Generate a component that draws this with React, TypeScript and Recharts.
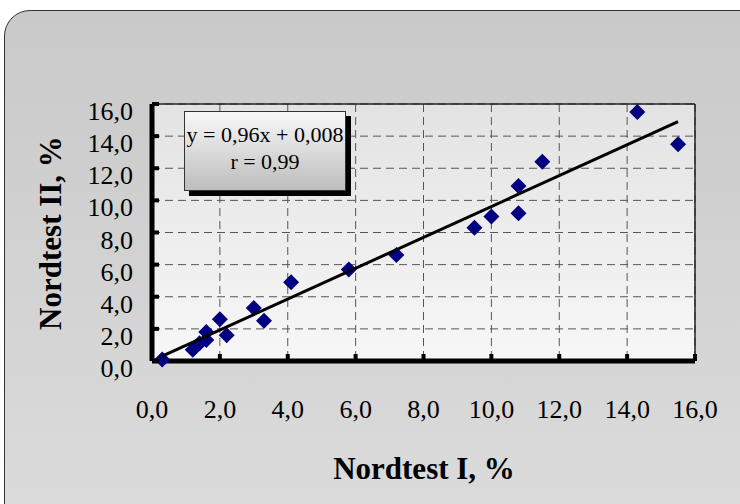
import React from 'react';
import { ScatterChart, Scatter, XAxis, YAxis, CartesianGrid, ReferenceLine } from 'recharts';

// Nordtest I (x) vs Nordtest II (y), %
const nordtestI = [0.3, 1.2, 1.4, 1.6, 1.6, 2.0, 2.2, 3.0, 3.3, 4.1, 5.8, 7.2, 9.5, 10.0, 10.8, 10.8, 11.5, 14.3, 15.5];
const nordtestII = [0.1, 0.7, 1.1, 1.3, 1.8, 2.6, 1.6, 3.3, 2.5, 4.9, 5.7, 6.6, 8.3, 9.0, 9.2, 10.9, 12.4, 15.5, 13.5];

// regression line end points (y = 0,96x + 0,008)
const trendX = [0.3, 15.5];
const trendY = [0.3, 14.9];

const axisTicks = [0, 2, 4, 6, 8, 10, 12, 14, 16];
const equationText = 'y = 0,96x + 0,008';
const rText = 'r = 0,99';

const points = nordtestI.map((x, i) => ({ x, y: nordtestII[i] }));
const trend = trendX.map((x, i) => ({ x, y: trendY[i] }));

const FONT = "'Liberation Serif', 'Times New Roman', serif";
const fmt = (v: number) => v.toFixed(1).replace('.', ',');
const tickStyle = { fontFamily: FONT, fontSize: 26 };

const XTick = (props: any) => {
  const { x, y, payload } = props;
  return (
    <g>
      <line x1={x} y1={y} x2={x} y2={y - 7} stroke="#000" strokeWidth={4} />
      <text x={x} y={y + 57} textAnchor="middle" fontSize={26} style={tickStyle} fill="#000">
        {fmt(payload.value)}
      </text>
    </g>
  );
};

const YTick = (props: any) => {
  const { x, y, payload } = props;
  return (
    <g>
      <line x1={x} y1={y} x2={x + 7} y2={y} stroke="#000" strokeWidth={4} />
      <text x={x - 19} y={y + 16} textAnchor="end" fontSize={26} style={tickStyle} fill="#000">
        {fmt(payload.value)}
      </text>
    </g>
  );
};

const Diamond = (props: any) => {
  const { cx, cy } = props;
  const r = 8;
  return (
    <polygon
      points={`${cx},${cy - r} ${cx + r},${cy} ${cx},${cy + r} ${cx - r},${cy}`}
      fill="#000080"
    />
  );
};

export default function App() {
  return (
    <div style={{ position: 'fixed', left: 0, top: 0, width: 740, height: 504, overflow: 'hidden', background: '#fff', fontFamily: FONT }}>
      <div
        style={{
          position: 'absolute',
          left: 4,
          top: 10,
          width: 760,
          height: 520,
          border: '1.5px solid #333',
          borderRadius: 26,
          background: 'linear-gradient(#c9c9c9, #dcdcdc)',
        }}
      />
      <div style={{ position: 'absolute', left: 0, top: 0 }}>
        <ScatterChart
          width={740}
          height={504}
          margin={{ top: 104, right: 45, bottom: 142, left: 151 }}
          style={{ fontFamily: FONT }}
        >
          <defs>
            <linearGradient id="plotBg" x1="0" y1="0" x2="0" y2="1">
              <stop offset="0%" stopColor="#e3e3e3" />
              <stop offset="100%" stopColor="#f7f7f7" />
            </linearGradient>
          </defs>
          <CartesianGrid stroke="#555" strokeDasharray="8 5" fill="url(#plotBg)" />
          <ReferenceLine x={16} stroke="#222" strokeWidth={1.5} />
          <ReferenceLine y={16} stroke="#222" strokeWidth={1.5} />
          <XAxis
            type="number"
            dataKey="x"
            domain={[0, 16]}
            ticks={axisTicks}
            height={1}
            tickSize={0}
            tickMargin={0}
            tick={XTick}
            axisLine={{ stroke: '#000', strokeWidth: 5 }}
          />
          <YAxis
            type="number"
            dataKey="y"
            domain={[0, 16]}
            ticks={axisTicks}
            width={1}
            tickSize={0}
            tickMargin={0}
            tick={YTick}
            axisLine={{ stroke: '#000', strokeWidth: 5 }}
          />
          <Scatter data={points} shape={Diamond} isAnimationActive={false} />
          <Scatter
            data={trend}
            line={{ stroke: '#000', strokeWidth: 3 }}
            shape={() => <g />}
            isAnimationActive={false}
          />
        </ScatterChart>
      </div>
      <svg width={740} height={504} style={{ position: 'absolute', left: 0, top: 0, pointerEvents: 'none' }}>
        <text x={424} y={479} textAnchor="middle" fontSize={31} fontWeight="bold" style={{ fontFamily: FONT }} fill="#000">
          Nordtest I, %
        </text>
        <text
          x={0}
          y={0}
          transform="translate(61,233) rotate(-90)"
          textAnchor="middle"
          fontSize={31}
          fontWeight="bold"
          style={{ fontFamily: FONT }}
          fill="#000"
        >
          Nordtest II, %
        </text>
      </svg>
      <div
        style={{
          position: 'absolute',
          left: 184,
          top: 111,
          width: 160,
          height: 69,
          border: '1px solid #333',
          background: 'linear-gradient(#f8f8f8, #bdbdbd)',
          boxShadow: '5px 5px 0 #000',
          fontFamily: FONT,
          fontSize: 22,
          lineHeight: '27px',
          textAlign: 'center',
          color: '#000',
          paddingTop: 9,
          boxSizing: 'content-box',
          whiteSpace: 'nowrap',
        }}
      >
        <div>{equationText}</div>
        <div>{rText}</div>
      </div>
    </div>
  );
}
